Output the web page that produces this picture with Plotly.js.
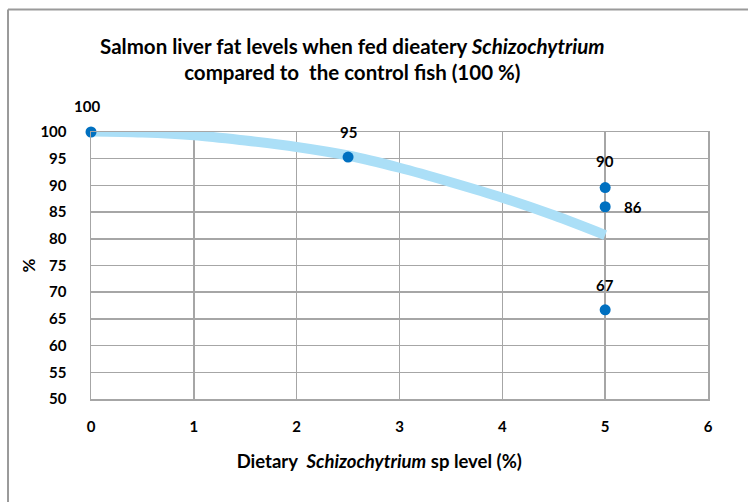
<!DOCTYPE html>
<html>
<head>
<meta charset="utf-8">
<script src="https://cdn.plot.ly/plotly-3.0.1.min.js"></script>
<style>html,body{margin:0;padding:0;background:#fff;}#chart{width:748px;height:502px;}</style>
</head>
<body>
<div id="chart"></div>
<script>
// Measured points
const dietLevel = [0, 2.5, 5, 5, 5];
const liverFat = [100, 95.3, 89.6, 86, 66.7];
const pointLabels = ['100', '95', '90', '86', '67'];
const labelXShift = [-4, 0, 0, 28, 0];
const labelYShift = [26, 25, 27, 0, 25];

// Trend line
const trendX = [0, 0.5, 1, 1.5, 2, 2.5, 3, 3.5, 4, 4.5, 5];
const trendY = [100.1, 99.9, 99.4, 98.4, 97.2, 95.6, 93.3, 90.6, 87.7, 84.4, 80.7];

const xTicks = [0, 1, 2, 3, 4, 5, 6];
const yTicks = [50, 55, 60, 65, 70, 75, 80, 85, 90, 95, 100];

const FONT = 'Lato, "Open Sans", sans-serif';

const traces = [
  {
    x: trendX, y: trendY, type: 'scatter', mode: 'lines',
    line: {color: '#abdff7', width: 10, shape: 'spline', smoothing: 1},
    hoverinfo: 'skip', showlegend: false, cliponaxis: false
  },
  {
    x: dietLevel, y: liverFat, type: 'scatter', mode: 'markers',
    marker: {color: '#0070c0', size: 11},
    showlegend: false, cliponaxis: false
  }
];

const annotations = dietLevel.map((x, i) => ({
  x: x, y: liverFat[i], xref: 'x', yref: 'y',
  text: pointLabels[i], showarrow: false,
  xshift: labelXShift[i], yshift: labelYShift[i],
  font: {family: FONT, size: 15, color: '#000', weight: 'bold'}
}));

const layout = {
  width: 748, height: 502,
  margin: {l: 91, r: 40, t: 132, b: 103},
  paper_bgcolor: '#fff', plot_bgcolor: '#fff',
  showlegend: false,
  title: {
    text: 'Salmon liver fat levels when fed dieatery <i>Schizochytrium</i><br>compared to&nbsp; the control fish (100 %)',
    x: 0.471, xref: 'container', xanchor: 'center',
    y: 0.893, yref: 'container', yanchor: 'top',
    font: {family: FONT, size: 20.5, color: '#000', weight: 'bold'}
  },
  xaxis: {
    range: [0, 6], tickvals: xTicks, ticktext: xTicks.map(String),
    showgrid: true, gridcolor: '#a6a6a6', gridwidth: 1.5,
    showline: true, linecolor: '#a6a6a6', linewidth: 1.5, mirror: true,
    zeroline: false, ticks: '', ticklabelstandoff: 13,
    tickfont: {family: FONT, size: 15, color: '#000', weight: 'bold'},
    title: {text: 'Dietary&nbsp; <i>Schizochytrium</i> sp level (%)&nbsp;&nbsp;&nbsp;&nbsp;&nbsp;&nbsp;&nbsp;&nbsp;&nbsp;', standoff: 21,
      font: {family: FONT, size: 18.5, color: '#000', weight: 'bold'}},
    fixedrange: true
  },
  yaxis: {
    range: [50, 100], tickvals: yTicks, ticktext: yTicks.map(String),
    showgrid: true, gridcolor: '#a6a6a6', gridwidth: 1.5,
    showline: true, linecolor: '#a6a6a6', linewidth: 1.5, mirror: true,
    zeroline: false, ticks: '', ticklabelstandoff: 20,
    tickfont: {family: FONT, size: 15, color: '#000', weight: 'bold'},
    title: {text: '%', standoff: 0,
      font: {family: FONT, size: 17, color: '#000', weight: 'bold'}},
    fixedrange: true
  },
  annotations: annotations,
  shapes: [
    {type: 'line', xref: 'paper', yref: 'paper', x0: -0.1345, x1: -0.1345, y0: -0.5, y1: 1.4585,
      line: {color: '#9a9a9a', width: 2}},
    {type: 'line', xref: 'paper', yref: 'paper', x0: -0.1345, x1: 1.1, y0: 1.4585, y1: 1.4585,
      line: {color: '#9a9a9a', width: 2}}
  ]
};

Plotly.newPlot('chart', traces, layout, {displayModeBar: false, staticPlot: true});
</script>
</body>
</html>
